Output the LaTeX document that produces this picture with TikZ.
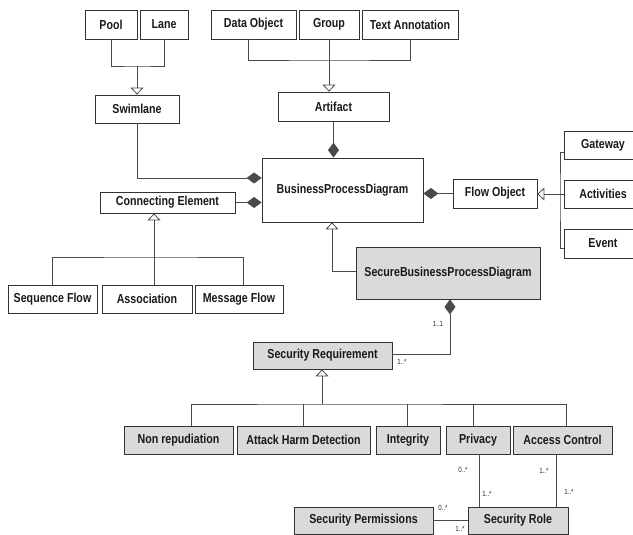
\documentclass[tikz,border=0pt]{standalone}
\usepackage{fontspec}
\newfontfamily\umlfont[FakeStretch=0.82]{Liberation Sans}
\usetikzlibrary{arrows.meta}
\definecolor{lineg}{HTML}{4A4A4A}
\definecolor{boxg}{HTML}{DADADA}
\begin{document}
\begin{tikzpicture}[x=1pt,y=1pt,yscale=-1,xscale=1,
  cls/.style={draw=black!80,line width=0.8pt,inner sep=0pt,minimum height=28,
    font=\umlfont\bfseries\fontsize{13}{15}\selectfont,text=black!90},
  sec/.style={cls,fill=boxg},
  link/.style={draw=lineg,line width=0.8pt},
  gen/.style={link,-{Triangle[open,length=7pt,width=13pt]}},
  comp/.style={link,-{Diamond[length=15pt,width=11pt]}},
  mult/.style={inner sep=0pt,font=\umlfont\fontsize{7.5}{8}\selectfont,text=black!85}]

\useasboundingbox (0,0) rectangle (633,535);

% top row
\node[cls,minimum width=52,minimum height=29] (pool) at (111,24.5) {Pool};
\node[cls,minimum width=48,minimum height=29] (lane) at (164,24.5) {Lane};
\node[cls,minimum width=85,minimum height=29] (dataobj) at (253.5,24.5) {Data Object};
\node[cls,minimum width=60,minimum height=29] (group) at (329,24.5) {Group};
\node[cls,minimum width=96,minimum height=29] (textann) at (410,24.5) {Text Annotation};

\node[cls,minimum width=84] (swimlane) at (137,109) {Swimlane};
\node[cls,minimum width=111,minimum height=29] (artifact) at (333.5,106.5) {Artifact};

\coordinate (swjoin) at (137,66);
\draw[link] (pool.south) |- (swjoin) -| (lane.south);
\draw[gen] (swjoin) -- (swimlane.north);

\coordinate (artjoin) at (329,60);
\draw[link] ([xshift=-5pt]dataobj.south) |- (artjoin) -| (textann.south);
\draw[gen] (group.south) -- (group.south |- artifact.north);

% middle
\node[cls,minimum width=161,minimum height=64] (bpd) at (342.5,190) {BusinessProcessDiagram};
\node[cls,minimum width=135,minimum height=21] (connelem) at (167.5,202.5) {Connecting Element};
\node[cls,minimum width=84,minimum height=29] (flowobj) at (495,193.5) {Flow Object};

\draw[comp] (artifact.south) -- (artifact.south |- bpd.north);
\draw[comp] (swimlane.south) |- ([yshift=-12pt]bpd.west);
\draw[comp] (connelem.east) -- (connelem.east -| bpd.west);
\draw[comp] (flowobj.west) -- (flowobj.west -| bpd.east);

\node[cls,minimum width=78] (gateway) at (603,145) {Gateway};
\node[cls,minimum width=78] (activities) at (603,194) {Activities};
\node[cls,minimum width=78,minimum height=29] (event) at (603,243.5) {Event};

\coordinate (fojoin) at (560,194);
\draw[link] ([yshift=7pt]gateway.west) -| (fojoin) |- ([yshift=4.5pt]event.west);
\draw[gen] (activities.west) -- (activities.west -| flowobj.east);

\node[cls,minimum width=89] (seqflow) at (52.5,299) {Sequence Flow};
\node[cls,minimum width=90] (assoc) at (147,299) {Association};
\node[cls,minimum width=88] (msgflow) at (239,299) {Message Flow};

\coordinate (cejoin) at (154,257);
\draw[link] (seqflow.north) |- (cejoin) -| ([xshift=4pt]msgflow.north);
\draw[gen] (cejoin |- assoc.north) -- (cejoin |- connelem.south);

% security part
\node[sec,minimum width=184,minimum height=52] (sbpd) at (448,273) {SecureBusinessProcessDiagram};
\draw[gen] ([yshift=-2pt]sbpd.west) -| ([xshift=-10.5pt]bpd.south);

\node[sec,minimum width=139,minimum height=27] (secreq) at (322.5,355.5) {Security Requirement};
\draw[comp] ([yshift=-1.5pt]secreq.east) -| ([xshift=2pt]sbpd.south);
\node[mult] (m11) at (438,324) {1..1};
\node[mult] (m1n) at (402,362) {1..*};

\node[sec,minimum width=109] (nonrep) at (178.5,440) {Non repudiation};
\node[sec,minimum width=133] (attack) at (303.5,440) {Attack Harm Detection};
\node[sec,minimum width=64] (integrity) at (408,440) {Integrity};
\node[sec,minimum width=64] (privacy) at (478,440) {Privacy};
\node[sec,minimum width=99] (access) at (562.5,440) {Access Control};

\coordinate (srjoin) at (322,404);
\draw[link] ([xshift=12.5pt]nonrep.north) |- (srjoin) -| ([xshift=3.5pt]access.north);
\draw[link] (attack.north) -- (attack.north |- srjoin);
\draw[link] ([xshift=-1pt]integrity.north) -- ([xshift=-1pt]integrity.north |- srjoin);
\draw[link] ([xshift=-5pt]privacy.north) -- ([xshift=-5pt]privacy.north |- srjoin);
\draw[gen] (srjoin) -- (srjoin |- secreq.south);

\node[sec,minimum width=139,minimum height=27] (secperm) at (363.5,520.5) {Security Permissions};
\node[sec,minimum width=100,minimum height=27] (secrole) at (518,520.5) {Security Role};

\draw[link] ([xshift=1pt]privacy.south) -- ([xshift=1pt]privacy.south |- secrole.north);
\draw[link] ([xshift=-6.5pt]access.south) -- ([xshift=-6.5pt]access.south |- secrole.north);
\draw[link] (secperm.east) -- (secrole.west);

\node[mult] (mpa) at (463,470) {0..*};
\node[mult] (mpb) at (487,494) {1..*};
\node[mult] (maa) at (544,471) {1..*};
\node[mult] (mab) at (569,492) {1..*};
\node[mult] (mra) at (443,508) {0..*};
\node[mult] (mrb) at (460,529) {1..*};
\end{tikzpicture}
\end{document}
